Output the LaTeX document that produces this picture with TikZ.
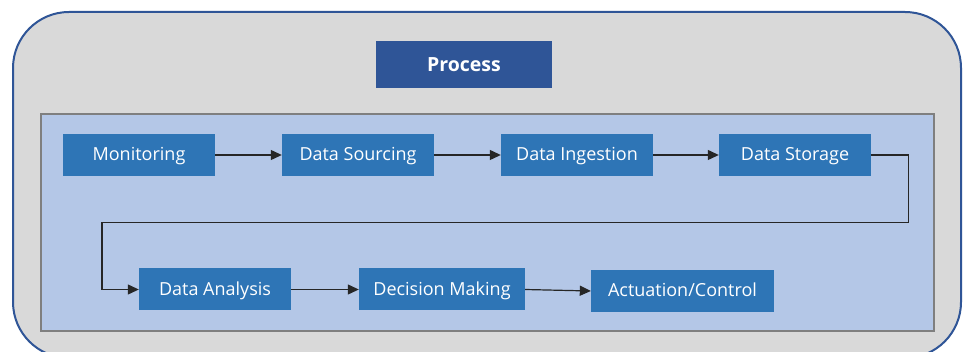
\documentclass[tikz,border=0pt]{standalone}
\usepackage{fontspec}
\setmainfont{Open Sans}
\usetikzlibrary{arrows.meta}
\definecolor{frameblue}{HTML}{2F5597}
\definecolor{stepblue}{HTML}{2E75B6}
\definecolor{panelblue}{HTML}{B4C7E7}
\definecolor{panelgray}{HTML}{7F7F7F}
\definecolor{backgray}{HTML}{D9D9D9}
\definecolor{linkgray}{HTML}{262626}
\tikzset{
  stepbox/.style={fill=stepblue, text=white, minimum width=152pt, minimum height=42pt,
    inner sep=0pt, text height=13pt, text depth=1.6pt,
    font=\fontsize{18}{21}\selectfont},
  titlebox/.style={fill=frameblue, text=white, minimum width=176pt, minimum height=47pt,
    inner sep=0pt, font=\bfseries\fontsize{19.5}{23}\selectfont},
  link/.style={draw=linkgray, line width=1.2pt, -{Triangle[length=11pt,width=10pt]}},
}
\begin{document}
\begin{tikzpicture}[x=1pt,y=-1pt]
  \useasboundingbox (0,0) rectangle (963,352);
  \clip (0,0) rectangle (963,352);
  \fill[white] (0,0) rectangle (963,352);
  % outer frame
  \draw[fill=backgray, draw=frameblue, line width=2pt, rounded corners=56pt]
    (13,12) rectangle (961,358);
  % title
  \node[titlebox] (title) at (464,64.5) {Process};
  % inner panel
  \draw[fill=panelblue, draw=panelgray, line width=2pt] (41,114) rectangle (934,330.5);
  % first row
  \node[stepbox] (mon) at (139,155) {Monitoring};
  \node[stepbox] (src) at (358,155) {Data Sourcing};
  \node[stepbox] (ing) at (577,155) {Data Ingestion};
  \node[stepbox] (sto) at (795,155) {Data Storage};
  % second row
  \node[stepbox] (ana) at (215,289.5) {Data Analysis};
  \node[stepbox, minimum width=166pt] (dec) at (442,289.5) {Decision Making};
  \node[stepbox, minimum width=183pt] (act) at (682.5,291) {Actuation/Control};
  % connectors
  \draw[link] (mon) -- (src);
  \draw[link] (src) -- (ing);
  \draw[link] (ing) -- (sto);
  \coordinate (r1) at (908.5,155);
  \coordinate (r2) at (908.5,222.5);
  \coordinate (l1) at (102,222.5);
  \coordinate (l2) at (102,289.5);
  \draw[link] (sto.east) -- (r1) -- (r2) -- (l1) -- (l2) -- (ana.west);
  \draw[link] (ana) -- (dec);
  \draw[link] (dec.east) -- (act.west);
\end{tikzpicture}
\end{document}
